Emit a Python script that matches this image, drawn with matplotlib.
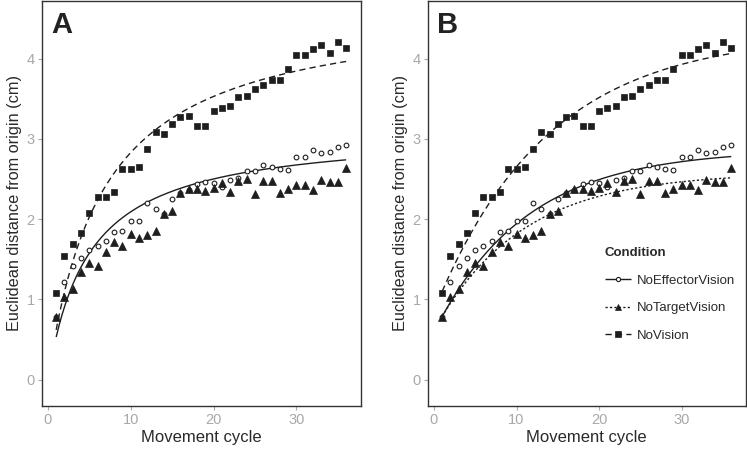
import matplotlib
matplotlib.use("Agg")
import matplotlib.pyplot as plt
from matplotlib.lines import Line2D
import numpy as np

plt.rcParams['font.family'] = ['Liberation Sans', 'DejaVu Sans']

cycle = list(range(1, 37))

no_effector = [0.775, 1.21, 1.41, 1.51, 1.62, 1.665, 1.73, 1.84, 1.855, 1.98, 1.98, 2.205,
               2.13, 2.07, 2.25, 2.33, 2.36, 2.44, 2.46, 2.45, 2.40, 2.49, 2.51, 2.60,
               2.60, 2.67, 2.65, 2.62, 2.61, 2.77, 2.78, 2.86, 2.82, 2.84, 2.905, 2.92]
no_target = [0.785, 1.03, 1.125, 1.345, 1.45, 1.41, 1.595, 1.715, 1.67, 1.82, 1.77, 1.805,
             1.85, 2.07, 2.10, 2.33, 2.37, 2.38, 2.35, 2.39, 2.445, 2.34, 2.48, 2.50,
             2.31, 2.47, 2.475, 2.33, 2.37, 2.42, 2.42, 2.36, 2.49, 2.46, 2.46, 2.64]
no_vision = [1.08, 1.54, 1.69, 1.83, 2.08, 2.28, 2.28, 2.34, 2.62, 2.62, 2.645, 2.88,
             3.09, 3.06, 3.19, 3.27, 3.28, 3.16, 3.16, 3.35, 3.38, 3.41, 3.52, 3.54,
             3.62, 3.67, 3.74, 3.74, 3.87, 4.05, 4.05, 4.12, 4.17, 4.07, 4.21, 4.13]

conditions = ["NoEffectorVision", "NoTargetVision", "NoVision"]

# fitted model parameters
# panel A: hyperbolic  y = vmax * x / (k + x)
fit_a = {"NoEffectorVision": (3.11, 4.87), "NoVision": (4.69, 6.57)}
# panel B: exponential  y = a - b * exp(-c * x)
fit_b = {"NoEffectorVision": (2.87, 2.28, 0.09),
         "NoTargetVision": (2.58, 1.97, 0.095),
         "NoVision": (4.311, 3.456, 0.0735)}

ink = "#1e1e1e"
marker_style = {
    "NoEffectorVision": dict(marker="o", markersize=3.4, markerfacecolor="white",
                             markeredgecolor=ink, markeredgewidth=0.8),
    "NoTargetVision": dict(marker="^", markersize=5.4, markerfacecolor=ink,
                           markeredgecolor=ink, markeredgewidth=0.5),
    "NoVision": dict(marker="s", markersize=4.7, markerfacecolor=ink,
                     markeredgecolor=ink, markeredgewidth=0.5),
}
line_style = {
    "NoEffectorVision": (0, ()),
    "NoTargetVision": (0, (1.6, 1.6)),
    "NoVision": (0, (4.5, 3)),
}
series = {"NoEffectorVision": no_effector, "NoTargetVision": no_target, "NoVision": no_vision}

fig = plt.figure(figsize=(7.47, 4.53), dpi=100)
ax_a = fig.add_axes([0.0558, 0.1038, 0.427, 0.894])
ax_b = fig.add_axes([0.5726, 0.1038, 0.4257, 0.894])

xs = np.linspace(1, 36, 200)

for ax, letter in [(ax_a, "A"), (ax_b, "B")]:
    for c in conditions:
        ax.plot(cycle, series[c], linestyle="none", zorder=3, **marker_style[c])
    if letter == "A":
        for c, (vmax, k) in fit_a.items():
            ax.plot(xs, vmax * xs / (k + xs), color=ink, lw=1.0, linestyle=line_style[c], zorder=2)
    else:
        for c, (a, b, r) in fit_b.items():
            ax.plot(xs, a - b * np.exp(-r * xs), color=ink, lw=1.0, linestyle=line_style[c], zorder=2)

    ax.set_xlim(-0.75, 37.75)
    ax.set_ylim(-0.33, 4.72)
    ax.set_xticks([0, 10, 20, 30])
    ax.set_yticks([0, 1, 2, 3, 4])
    for s in ax.spines.values():
        s.set_color("#333333")
        s.set_linewidth(1.0)
    ax.tick_params(colors="#a8a8a8", labelsize=10.5, length=3, width=0.8, pad=2)
    ax.set_xlabel("Movement cycle", fontsize=12, color="#2a2a2a", labelpad=2)
    ax.set_ylabel("Euclidean distance from origin (cm)", fontsize=11.7, color="#2a2a2a", labelpad=3)
    ax.text(0.03, 0.975, letter, transform=ax.transAxes, fontsize=21, fontweight="bold",
            color="#222222", va="top", ha="left")

handles = []
for c in conditions:
    ms = dict(marker_style[c])
    if c == "NoEffectorVision":
        ms["markersize"] = 3.0
    else:
        ms["markersize"] = 4.3
    handles.append(Line2D([0], [0], color=ink, lw=1.0, linestyle=line_style[c], **ms))
leg = ax_b.legend(handles, conditions, title="Condition", loc="center left",
                  bbox_to_anchor=(0.54, 0.275), frameon=False, fontsize=9.5,
                  title_fontsize=9.5, handlelength=2.0, labelspacing=1.15,
                  handletextpad=0.4, borderaxespad=0)
leg.get_title().set_fontweight("bold")
leg._legend_box.align = "left"
for t in leg.get_texts():
    t.set_color("#2a2a2a")
leg.get_title().set_color("#2a2a2a")

fig.savefig("out.png", dpi=100)
